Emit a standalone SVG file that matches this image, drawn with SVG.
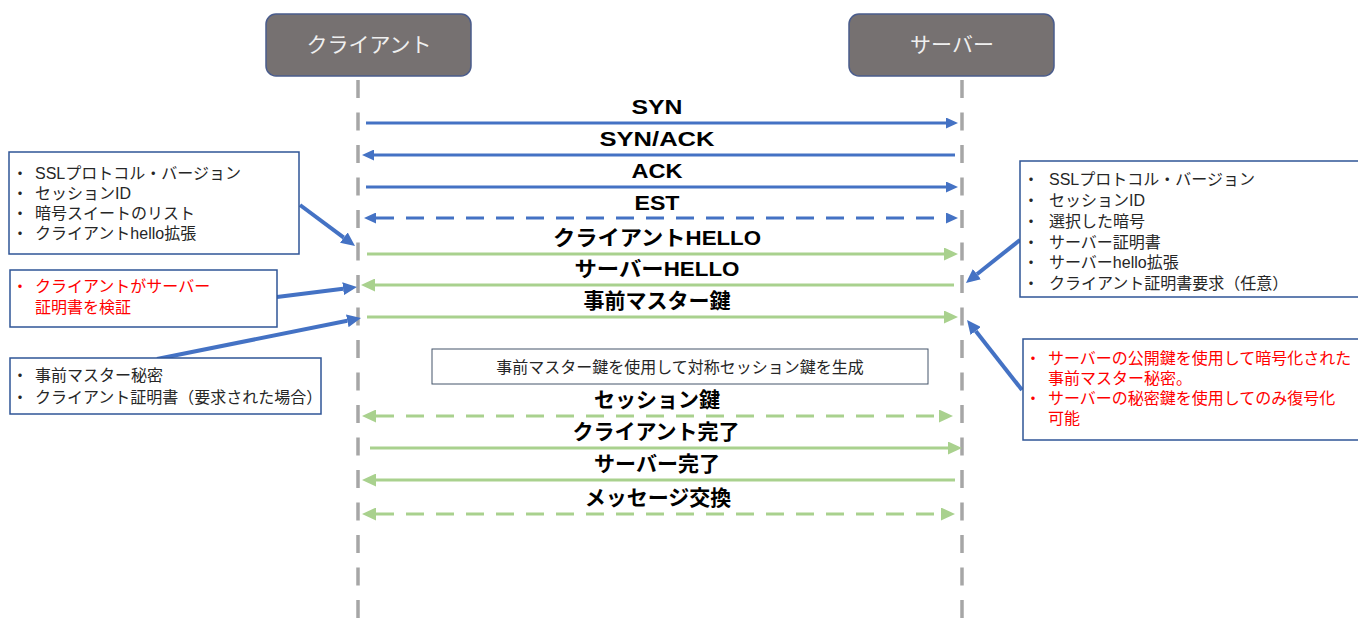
<svg xmlns="http://www.w3.org/2000/svg" width="1358" height="630" viewBox="0 0 1358 630">
<defs>
<style>
text{font-family:"Liberation Sans","Noto Sans CJK JP",sans-serif}
.hdr rect{fill:#767171;stroke:#4a5c8c;stroke-width:1.5}
.hdr text{fill:#efefef;font-size:21px;text-anchor:middle}
.life{stroke:#a6a6a6;stroke-width:3.5;stroke-dasharray:18 14.5;fill:none}
.lbl{font-size:21px;font-weight:bold;fill:#000;text-anchor:middle}
.blue{stroke:#4472c4;stroke-width:3;fill:none}
.green{stroke:#a9d18e;stroke-width:3;fill:none}
.dash{stroke-dasharray:18 12}
.ann{stroke:#4472c4;stroke-width:4;fill:none;marker-end:url(#ha)}
.note{fill:#fff;stroke:#2f5597;stroke-width:1.5}
.nt{font-size:16px;fill:#262626}
.red{fill:#ff0000}
.mid rect{fill:#fff;stroke:#44546a;stroke-width:1}
.mid text{font-size:16px;fill:#262626;text-anchor:middle}
</style>
<marker id="hb" markerUnits="userSpaceOnUse" markerWidth="12" markerHeight="11" refX="0" refY="5.5" orient="auto-start-reverse" viewBox="0 0 12 11"><path d="M0,0 L12,5.5 L0,11 z" fill="#4472c4"/></marker>
<marker id="hg" markerUnits="userSpaceOnUse" markerWidth="14" markerHeight="13" refX="0" refY="6.5" orient="auto-start-reverse" viewBox="0 0 14 13"><path d="M0,0 L14,6.5 L0,13 z" fill="#a9d18e"/></marker>
<marker id="ha" markerUnits="userSpaceOnUse" markerWidth="14" markerHeight="13" refX="0" refY="6.5" orient="auto" viewBox="0 0 14 13"><path d="M0,0 L14,6.5 L0,13 z" fill="#4472c4"/></marker>
</defs>
<rect width="1358" height="630" fill="#fff"/>

<g id="client" class="hdr"><rect x="266" y="14" width="205" height="62" rx="10"/><text x="369" y="52">クライアント</text></g>
<g id="server" class="hdr"><rect x="849" y="14" width="205" height="62" rx="10"/><text x="952" y="52">サーバー</text></g>

<g id="lifelines">
<line class="life" x1="358" y1="80" x2="358" y2="622"/>
<line class="life" x1="962" y1="80" x2="962" y2="622"/>
</g>

<g id="connectors">
<line class="blue" x1="366" y1="123" x2="946" y2="123" marker-end="url(#hb)"/>
<line class="blue" x1="955" y1="155" x2="374" y2="155" marker-end="url(#hb)"/>
<line class="blue" x1="366" y1="187" x2="946" y2="187" marker-end="url(#hb)"/>
<line class="blue dash" x1="376" y1="218" x2="946" y2="218" marker-start="url(#hb)" marker-end="url(#hb)"/>
<line class="green" x1="367" y1="254" x2="944" y2="254" marker-end="url(#hg)"/>
<line class="green" x1="954" y1="285" x2="375" y2="285" marker-end="url(#hg)"/>
<line class="green" x1="367" y1="317" x2="944" y2="317" marker-end="url(#hg)"/>
<line class="green dash" x1="376" y1="416" x2="939" y2="416" marker-start="url(#hg)" marker-end="url(#hg)"/>
<line class="green" x1="370" y1="448" x2="948" y2="448" marker-end="url(#hg)"/>
<line class="green" x1="955" y1="480" x2="376" y2="480" marker-end="url(#hg)"/>
<line class="green dash" x1="376" y1="514" x2="941" y2="514" marker-start="url(#hg)" marker-end="url(#hg)"/>
<line class="ann" x1="300" y1="205" x2="343.8" y2="237.6"/>
<line class="ann" x1="277" y1="297" x2="343.1" y2="288.7"/>
<line class="ann" x1="157" y1="359" x2="347.3" y2="320.8"/>
<line class="ann" x1="1020" y1="240" x2="976.9" y2="274.2"/>
<line class="ann" x1="1022" y1="390" x2="975.7" y2="331"/>
</g>

<g id="labels">
<text class="lbl" x="657" y="114" textLength="51" lengthAdjust="spacingAndGlyphs">SYN</text>
<text class="lbl" x="657" y="146" textLength="115" lengthAdjust="spacingAndGlyphs">SYN/ACK</text>
<text class="lbl" x="657" y="178" textLength="51" lengthAdjust="spacingAndGlyphs">ACK</text>
<text class="lbl" x="657" y="210" textLength="45" lengthAdjust="spacingAndGlyphs">EST</text>
<text class="lbl" x="657" y="245" textLength="208" lengthAdjust="spacingAndGlyphs">クライアントHELLO</text>
<text class="lbl" x="657" y="276" textLength="165" lengthAdjust="spacingAndGlyphs">サーバーHELLO</text>
<text class="lbl" x="657" y="308">事前マスター鍵</text>
<text class="lbl" x="657" y="407">セッション鍵</text>
<text class="lbl" x="656" y="439">クライアント完了</text>
<text class="lbl" x="657" y="471">サーバー完了</text>
<text class="lbl" x="658" y="505">メッセージ交換</text>
</g>

<g id="generate" class="mid"><rect x="432" y="349" width="496" height="35"/><text x="680" y="373">事前マスター鍵を使用して対称セッション鍵を生成</text></g>

<g id="note-client-hello">
<rect class="note" x="9" y="152" width="290" height="102"/>
<text class="nt" y="179"><tspan x="12">・</tspan><tspan x="35">SSLプロトコル・バージョン</tspan></text>
<text class="nt" y="199"><tspan x="12">・</tspan><tspan x="35">セッションID</tspan></text>
<text class="nt" y="219"><tspan x="12">・</tspan><tspan x="35">暗号スイートのリスト</tspan></text>
<text class="nt" y="239"><tspan x="12">・</tspan><tspan x="35">クライアントhello拡張</tspan></text>
</g>

<g id="note-verify">
<rect class="note" x="10" y="270" width="267" height="57"/>
<text class="nt red" y="292"><tspan x="12">・</tspan><tspan x="35">クライアントがサーバー</tspan></text>
<text class="nt red" y="313"><tspan x="35">証明書を検証</tspan></text>
</g>

<g id="note-pre-master">
<rect class="note" x="10" y="358" width="311" height="56"/>
<text class="nt" y="381"><tspan x="12">・</tspan><tspan x="35">事前マスター秘密</tspan></text>
<text class="nt" y="403"><tspan x="12">・</tspan><tspan x="35">クライアント証明書（要求された場合）</tspan></text>
</g>

<g id="note-server-hello">
<rect class="note" x="1020" y="161" width="345" height="136"/>
<text class="nt" y="185"><tspan x="1023">・</tspan><tspan x="1049">SSLプロトコル・バージョン</tspan></text>
<text class="nt" y="206"><tspan x="1023">・</tspan><tspan x="1049">セッションID</tspan></text>
<text class="nt" y="227"><tspan x="1023">・</tspan><tspan x="1049">選択した暗号</tspan></text>
<text class="nt" y="248"><tspan x="1023">・</tspan><tspan x="1049">サーバー証明書</tspan></text>
<text class="nt" y="268"><tspan x="1023">・</tspan><tspan x="1049">サーバーhello拡張</tspan></text>
<text class="nt" y="289"><tspan x="1023">・</tspan><tspan x="1049">クライアント証明書要求（任意）</tspan></text>
</g>

<g id="note-encrypted">
<rect class="note" x="1023" y="339" width="345" height="101"/>
<text class="nt red" y="364"><tspan x="1025">・</tspan><tspan x="1048">サーバーの公開鍵を使用して暗号化された</tspan></text>
<text class="nt red" y="384"><tspan x="1048">事前マスター秘密。</tspan></text>
<text class="nt red" y="404"><tspan x="1025">・</tspan><tspan x="1048">サーバーの秘密鍵を使用してのみ復号化</tspan></text>
<text class="nt red" y="424"><tspan x="1048">可能</tspan></text>
</g>
</svg>
